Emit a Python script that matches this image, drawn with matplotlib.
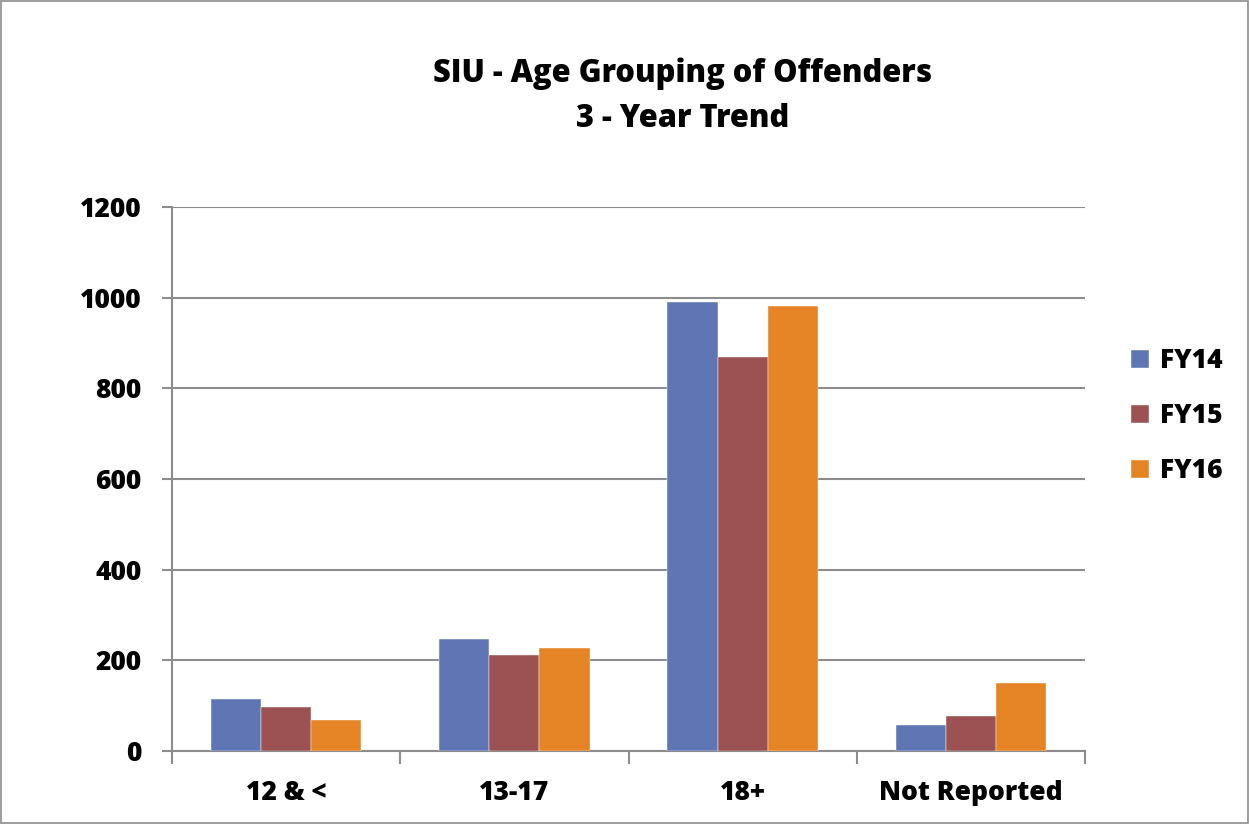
import matplotlib
matplotlib.use("Agg")
import matplotlib.pyplot as plt
import numpy as np
from matplotlib.patches import Rectangle

categories = ["12 & <", "13-17", "18+", "Not Reported"]
series_names = ["FY14", "FY15", "FY16"]
fy14 = [115, 247, 990, 57]
fy15 = [98, 211, 869, 78]
fy16 = [68, 228, 982, 150]
yticks = [0, 200, 400, 600, 800, 1000, 1200]
colors = ["#6076B4", "#9C5252", "#E48424"]

plt.rcParams['font.family'] = ['Open Sans', 'DejaVu Sans']
WT = 'heavy'

W, H = 1249, 824
fig = plt.figure(figsize=(W/100, H/100), dpi=100)
ax = fig.add_axes([172/W, 1-751/H, (1085-172)/W, (751-207)/H])

x = np.arange(len(categories))
bw = 0.22
for i, (vals, name) in enumerate(zip([fy14, fy15, fy16], series_names)):
    ax.bar(x + (i-1)*bw, vals, width=bw, color=colors[i], label=name, zorder=3,
           edgecolor='white', linewidth=0.3)

ax.set_xlim(-0.5, len(categories)-0.5)
ax.set_ylim(0, 1200)
ax.set_yticks(yticks)
ax.set_yticklabels([str(t) for t in yticks], fontsize=19, fontweight=WT)
ax.yaxis.grid(True, color='#8C8C8C', linewidth=1.5, zorder=0)
ax.set_xticks(np.arange(-0.5, len(categories)), minor=False)
ax.set_xticklabels([])
ax.set_xticks(x, minor=True)
ax.set_xticklabels(categories, minor=True, fontsize=19, fontweight=WT)
ax.tick_params(axis='x', which='minor', length=0, pad=21)
ax.tick_params(axis='x', which='major', length=9, width=1.5, color='#8C8C8C', direction='out')
ax.tick_params(axis='y', length=7, width=1.5, color='#8C8C8C', direction='out', pad=15)
for s in ['top', 'right']:
    ax.spines[s].set_visible(False)
ax.spines['left'].set_color('#8C8C8C')
ax.spines['left'].set_linewidth(1.5)
ax.spines['bottom'].set_color('#8C8C8C')
ax.spines['bottom'].set_linewidth(1.5)

fig.text(683/W, 1-96/H, "SIU - Age Grouping of Offenders\n3 - Year Trend", ha='center', va='center',
         fontsize=22.2, fontweight=WT, linespacing=1.55)

leg = ax.legend(loc='center left', bbox_to_anchor=(1107/W, 1-416/H), bbox_transform=fig.transFigure,
                frameon=False, prop={'weight': WT, 'size': 19},
                handlelength=0.7, handleheight=0.7, labelspacing=1.1, handletextpad=0.4)

fig.patches.append(Rectangle((1/W, 1/H), 1-2/W, 1-2/H, transform=fig.transFigure,
                             fill=False, edgecolor='#8C8C8C', linewidth=1.2))

fig.savefig("out.png", dpi=100)
